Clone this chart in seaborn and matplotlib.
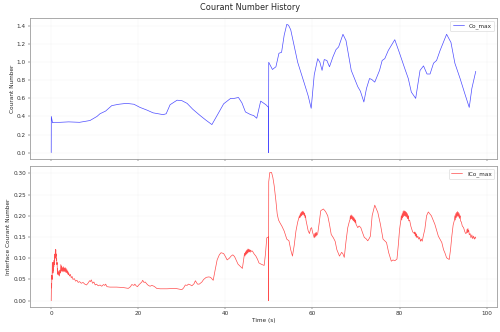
import matplotlib
matplotlib.use("Agg")
import matplotlib.pyplot as plt
import numpy as np
import pandas as pd
import seaborn as sns

sns.set_style("whitegrid", {
    "axes.edgecolor": "#a0a0a0",
    "grid.color": "#ececec",
    "xtick.bottom": True,
    "ytick.left": True,
    "xtick.color": "#333333",
    "ytick.color": "#333333",
})
plt.rcParams["font.family"] = ["DejaVu Sans"]
plt.rcParams["xtick.major.size"] = 3.5
plt.rcParams["ytick.major.size"] = 3.5
plt.rcParams["axes.linewidth"] = 1.5

# Co_max history (time in s, value)
co_time = [0.0, 0.02, 0.3, 0.6, 2.0, 4.0, 6.5, 8.9, 10.5, 11.2,
           12.5, 13.9, 15.5, 17.3, 19.0, 20.4, 22.0, 23.4, 25.7, 26.4,
           27.3, 28.9, 30.0, 31.2, 32.5, 34.2, 35.5, 36.9, 38.2, 39.6,
           41.2, 42.0, 43.0, 43.8, 44.6, 45.8, 46.5, 47.2, 48.1, 48.7,
           49.3, 49.9, 49.9, 49.95, 50.8, 51.6, 52.3, 52.9, 53.5, 54.1,
           54.5, 55.0, 55.8, 56.6, 58.1, 59.0, 59.7, 60.4, 61.2, 61.7,
           62.2, 62.7, 63.3, 63.9, 64.7, 65.4, 66.0, 67.0, 67.7, 68.9,
           70.4, 71.0, 71.8, 72.4, 73.1, 73.6, 74.3, 75.4, 76.0, 76.6,
           77.4, 78.9, 80.0, 81.2, 82.0, 82.7, 83.7, 84.7, 85.5, 86.3,
           87.0, 87.8, 88.5, 89.3, 90.8, 91.8, 92.7, 93.9, 95.0, 96.0,
           96.6, 97.5]
co_value = [0.0, 0.40, 0.33, 0.335, 0.335, 0.34, 0.335, 0.355, 0.40, 0.43,
            0.46, 0.52, 0.535, 0.545, 0.535, 0.50, 0.47, 0.44, 0.42, 0.43,
            0.53, 0.58, 0.575, 0.545, 0.48, 0.41, 0.36, 0.31, 0.42, 0.54,
            0.60, 0.60, 0.61, 0.55, 0.45, 0.42, 0.41, 0.38, 0.57, 0.55,
            0.53, 0.50, 0.0, 1.0, 0.92, 0.95, 1.10, 1.11, 1.30, 1.42,
            1.41, 1.36, 1.18, 1.0, 0.77, 0.63, 0.49, 0.86, 1.04, 1.0,
            0.91, 1.03, 1.02, 0.95, 1.06, 1.14, 1.17, 1.31, 1.24, 0.91,
            0.73, 0.68, 0.56, 0.71, 0.82, 0.81, 0.78, 0.91, 1.02, 1.04,
            1.13, 1.25, 1.10, 0.93, 0.82, 0.67, 0.60, 0.91, 0.96, 0.87,
            0.87, 0.99, 1.02, 1.13, 1.31, 1.22, 0.99, 0.82, 0.65, 0.50,
            0.71, 0.90]

# ICo_max history, split into stretches
ico_time_a = [0.0, 0.05, 0.1, 0.15, 0.2, 0.25, 0.3, 0.35, 0.4, 0.45,
              0.5, 0.55, 0.6, 0.65, 0.7, 0.75, 0.8, 0.85, 0.9, 0.95,
              1.0, 1.05, 1.1, 1.15, 1.2, 1.25, 1.3, 1.35, 1.4, 1.45,
              1.5, 1.6, 1.7, 1.8, 1.9, 2.0, 2.1, 2.2, 2.3, 2.4,
              2.5, 2.6, 2.7, 2.8, 2.9, 3.0, 3.1, 3.2, 3.3, 3.4,
              3.5, 3.6, 3.7, 3.8, 3.9, 4.0, 4.2, 4.4, 4.6, 4.8,
              5.0, 5.3, 5.6, 5.9, 6.2, 6.5, 6.9, 7.3, 7.7, 8.1]
ico_value_a = [0.0, 0.04, 0.03, 0.06, 0.05, 0.09, 0.07, 0.085, 0.065, 0.08,
               0.07, 0.09, 0.08, 0.095, 0.085, 0.10, 0.095, 0.11, 0.10, 0.12,
               0.11, 0.12, 0.105, 0.11, 0.095, 0.10, 0.085, 0.09, 0.07, 0.075,
               0.062, 0.07, 0.06, 0.068, 0.058, 0.072, 0.065, 0.085, 0.07, 0.082,
               0.068, 0.078, 0.07, 0.08, 0.068, 0.077, 0.069, 0.078, 0.067, 0.076,
               0.066, 0.073, 0.064, 0.07, 0.061, 0.066, 0.058, 0.062, 0.054, 0.057,
               0.05, 0.052, 0.046, 0.048, 0.043, 0.045, 0.041, 0.043, 0.039, 0.037]

ico_time_b = [8.5, 8.8, 9.0, 9.2, 9.5, 9.8, 10.1, 10.4, 10.8, 11.2,
              11.6, 12.0, 12.3, 12.5, 12.8, 13.5, 15.0, 16.5, 17.7, 18.2,
              18.5, 19.0, 19.2, 19.5, 19.8, 20.1, 20.4, 20.8, 21.0, 21.3,
              21.6, 21.9, 22.3, 22.7, 23.1, 23.6, 24.0, 24.2, 25.0, 26.6,
              28.5, 30.0, 30.4, 30.8, 31.2, 31.5, 32.0, 32.3, 32.8, 33.1,
              33.4, 33.6, 34.0, 34.6, 35.0, 35.6, 36.2, 36.6, 37.2, 37.6,
              38.1, 38.6, 39.0, 39.6, 40.0, 40.4, 40.9, 41.3, 41.7, 42.1,
              42.5, 42.9, 43.2, 43.5, 43.9, 44.1, 44.3]
ico_value_b = [0.042, 0.047, 0.045, 0.049, 0.041, 0.044, 0.037, 0.039, 0.035, 0.037,
               0.034, 0.038, 0.036, 0.039, 0.033, 0.032, 0.032, 0.031, 0.029, 0.033,
               0.038, 0.036, 0.039, 0.035, 0.033, 0.037, 0.040, 0.044, 0.048, 0.043,
               0.044, 0.040, 0.036, 0.034, 0.036, 0.034, 0.031, 0.029, 0.028, 0.028,
               0.029, 0.026, 0.030, 0.037, 0.036, 0.039, 0.037, 0.035, 0.040, 0.047,
               0.042, 0.039, 0.039, 0.044, 0.050, 0.055, 0.056, 0.055, 0.048, 0.070,
               0.096, 0.108, 0.113, 0.111, 0.104, 0.096, 0.100, 0.105, 0.108, 0.104,
               0.095, 0.086, 0.083, 0.080, 0.076, 0.090, 0.105]

ico_time_c = [44.4, 44.5, 44.6, 44.7, 44.8, 44.9, 45.0, 45.1, 45.2, 45.3,
              45.4, 45.5, 45.6, 45.7, 45.8, 46.0, 46.2, 46.6, 47.0, 47.4,
              47.7, 48.2, 48.9, 49.2, 49.5, 49.9, 49.9, 49.95, 50.2, 50.6,
              50.9, 51.2, 51.6, 51.9, 52.2, 52.5, 53.0, 53.5, 54.1, 54.6,
              55.0, 55.4, 55.8, 56.2, 56.6, 57.0]
ico_value_c = [0.112, 0.105, 0.115, 0.108, 0.118, 0.110, 0.120, 0.112, 0.122, 0.114,
               0.121, 0.115, 0.120, 0.114, 0.119, 0.116, 0.117, 0.110, 0.105, 0.097,
               0.089, 0.086, 0.083, 0.110, 0.148, 0.150, 0.0, 0.280, 0.302, 0.302,
               0.290, 0.271, 0.235, 0.204, 0.190, 0.184, 0.175, 0.164, 0.145, 0.141,
               0.120, 0.105, 0.130, 0.164, 0.185, 0.200]

ico_time_d = [57.1, 57.2, 57.3, 57.4, 57.5, 57.6, 57.7, 57.8, 57.9, 58.0,
              58.1, 58.2, 58.3, 58.4, 58.5, 58.7, 59.0, 59.3, 59.6, 59.8,
              60.0, 60.2, 60.4, 60.5, 60.6, 60.7, 60.8, 60.9, 61.0, 61.2,
              61.5, 61.9, 62.5, 63.0, 63.5, 63.9, 64.3, 64.8, 65.2, 65.6,
              66.2, 66.7, 67.0, 67.3, 67.7, 68.1, 68.5]
ico_value_d = [0.195, 0.205, 0.198, 0.208, 0.200, 0.210, 0.202, 0.211, 0.203, 0.209,
               0.200, 0.206, 0.196, 0.200, 0.190, 0.180, 0.165, 0.158, 0.170, 0.172,
               0.162, 0.155, 0.148, 0.158, 0.150, 0.160, 0.152, 0.161, 0.154, 0.158,
               0.180, 0.212, 0.216, 0.210, 0.200, 0.180, 0.156, 0.148, 0.140, 0.120,
               0.105, 0.114, 0.110, 0.102, 0.140, 0.172, 0.188]

ico_time_e = [68.6, 68.7, 68.8, 68.9, 69.0, 69.1, 69.2, 69.3, 69.4, 69.5,
              69.6, 69.7, 69.8, 69.9, 70.0, 70.2, 70.4, 70.7, 71.1, 71.5,
              71.9, 72.3, 72.7, 73.0, 73.3, 73.7, 74.3, 75.0, 75.6, 76.2,
              77.0, 77.5, 78.1, 78.5, 78.9, 79.4, 79.7, 80.0, 80.3]
ico_value_e = [0.190, 0.200, 0.192, 0.202, 0.193, 0.200, 0.190, 0.198, 0.188, 0.196,
               0.186, 0.193, 0.183, 0.190, 0.180, 0.176, 0.172, 0.176, 0.172, 0.160,
               0.149, 0.146, 0.141, 0.146, 0.152, 0.200, 0.225, 0.208, 0.180, 0.145,
               0.137, 0.113, 0.093, 0.096, 0.094, 0.098, 0.130, 0.168, 0.190]

ico_time_f = [80.4, 80.5, 80.6, 80.7, 80.8, 80.9, 81.0, 81.1, 81.2, 81.3,
              81.4, 81.5, 81.6, 81.7, 81.8, 81.9, 82.0, 82.1, 82.3, 82.6,
              83.0, 83.4, 83.5, 83.6, 83.7, 83.8, 83.9, 84.0, 84.2, 84.4,
              84.6, 84.8, 85.0, 85.2, 85.5, 85.8, 86.2, 86.6, 87.3, 88.1,
              88.9, 89.7, 90.1, 90.4, 90.8, 91.4, 91.7, 92.0, 92.3, 92.6]
ico_value_f = [0.200, 0.190, 0.205, 0.195, 0.210, 0.198, 0.212, 0.200, 0.211, 0.199,
               0.210, 0.198, 0.208, 0.196, 0.205, 0.193, 0.200, 0.188, 0.190, 0.175,
               0.162, 0.158, 0.162, 0.153, 0.160, 0.150, 0.157, 0.148, 0.152, 0.145,
               0.149, 0.140, 0.145, 0.140, 0.155, 0.168, 0.200, 0.209, 0.200, 0.180,
               0.152, 0.137, 0.120, 0.113, 0.101, 0.097, 0.120, 0.152, 0.178, 0.190]

ico_time_g = [92.7, 92.8, 92.9, 93.0, 93.1, 93.2, 93.3, 93.4, 93.5, 93.6,
              93.7, 93.8, 93.9, 94.0, 94.2, 94.4, 94.7, 95.0, 95.2, 95.4,
              95.5, 95.6, 95.7, 95.8, 95.9, 96.0, 96.2, 96.4, 96.6, 96.8,
              97.0, 97.2, 97.4, 97.5]
ico_value_g = [0.200, 0.190, 0.205, 0.195, 0.208, 0.198, 0.210, 0.200, 0.208, 0.197,
               0.205, 0.194, 0.200, 0.188, 0.185, 0.176, 0.172, 0.162, 0.158, 0.160,
               0.168, 0.160, 0.170, 0.162, 0.165, 0.155, 0.158, 0.148, 0.155, 0.146,
               0.152, 0.145, 0.150, 0.147]

co_df = pd.DataFrame({"time": co_time, "Co_max": co_value})
ico_df = pd.DataFrame({
    "time": ico_time_a + ico_time_b + ico_time_c + ico_time_d
    + ico_time_e + ico_time_f + ico_time_g,
    "ICo_max": ico_value_a + ico_value_b + ico_value_c + ico_value_d
    + ico_value_e + ico_value_f + ico_value_g,
})

fig, (ax1, ax2) = plt.subplots(2, 1, figsize=(12, 7.968), sharex=True)

sns.lineplot(data=co_df, x="time", y="Co_max", ax=ax1, color="blue",
             alpha=0.7, linewidth=1.2, label="Co_max",
             estimator=None, sort=False)
ax1.set_ylabel("Courant Number", fontsize=10)
ax1.set_xlabel("")
ax1.legend(loc="upper right", fontsize=10)
ax1.set_yticks(np.arange(0, 1.41, 0.2))

sns.lineplot(data=ico_df, x="time", y="ICo_max", ax=ax2, color="red",
             alpha=0.7, linewidth=1.2, label="ICo_max",
             estimator=None, sort=False)
ax2.set_ylabel("Interface Courant Number", fontsize=10)
ax2.set_xlabel("Time (s)", fontsize=10)
ax2.legend(loc="upper right", fontsize=10)
ax2.set_yticks(np.arange(0, 0.31, 0.05))
ax2.set_xticks([0, 20, 40, 60, 80, 100])

for ax in (ax1, ax2):
    ax.tick_params(labelsize=10)
    ax.grid(True, alpha=0.6)

fig.suptitle("Courant Number History", fontsize=14, y=0.99)
fig.subplots_adjust(left=0.06, right=0.994, top=0.946, bottom=0.075, hspace=0.05)

fig.savefig("out.png", dpi=500 / 12)
